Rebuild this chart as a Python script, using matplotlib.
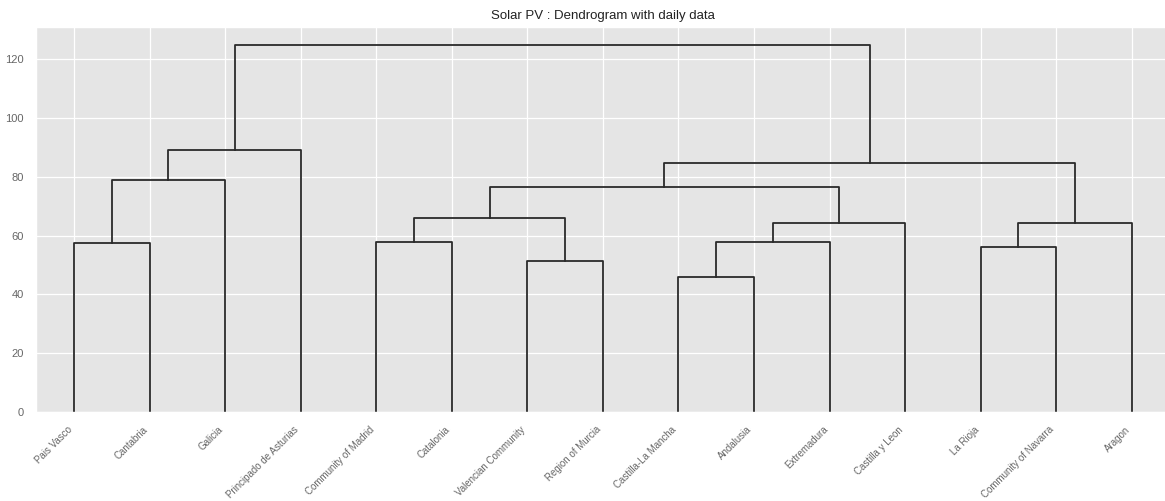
import matplotlib
matplotlib.use("Agg")
import matplotlib.pyplot as plt

plt.style.use("ggplot")
plt.rcParams['font.family'] = ['Liberation Sans', 'DejaVu Sans']

labels = ["Pais Vasco", "Cantabria", "Galicia", "Principado de Asturias",
          "Community of Madrid", "Catalonia", "Valencian Community",
          "Region of Murcia", "Castilla-La Mancha", "Andalusia", "Extremadura",
          "Castilla y Leon", "La Rioja", "Community of Navarra", "Aragon"]

# linkage rows: left child, right child, merge height (new node id = 15 + row)
left_child = [8, 6, 12, 0, 4, 15, 20, 17, 19, 23, 18, 24, 25, 27]
right_child = [9, 7, 13, 1, 5, 10, 11, 14, 16, 21, 2, 22, 3, 26]
heights = [45.8, 51.4, 56.3, 57.4, 57.7, 57.8, 64.2, 64.3, 66.0, 76.7,
           79.0, 84.7, 89.1, 124.8]

n = len(labels)

fig = plt.figure(figsize=(11.65, 5.01), dpi=100)
ax = fig.add_axes([36.2 / 1165, 89 / 501, 1133.3 / 1165, 385 / 501])

# leaf order from traversing the tree
def leaves(node):
    if node < n:
        return [node]
    r = node - n
    return leaves(left_child[r]) + leaves(right_child[r])

order = leaves(n + len(heights) - 1)
xpos = {leaf: 5 + 10 * i for i, leaf in enumerate(order)}
ypos = {leaf: 0.0 for leaf in order}

for r in range(len(heights)):
    a, b, h = left_child[r], right_child[r], heights[r]
    xa, xb = xpos[a], xpos[b]
    ax.plot([xa, xa, xb, xb], [ypos[a], h, h, ypos[b]], color="#2a2a2a", lw=1.3)
    xpos[n + r] = (xa + xb) / 2
    ypos[n + r] = h

ax.set_xlim(0, 10 * n)
ax.set_ylim(0, max(heights) * 1.05)
ax.set_xticks([5 + 10 * i for i in range(n)])
ax.set_xticklabels([labels[i] for i in order], rotation=45, ha="right",
                   fontsize=7, color="#666666")
ax.set_yticks(range(0, 121, 20))
ax.tick_params(axis="y", labelsize=8, colors="#666666", length=0, pad=9)
ax.tick_params(axis="x", length=0, pad=9)
ax.grid(True, color="white", lw=0.9)
ax.set_title("Solar PV : Dendrogram with daily data", fontsize=9.5, color="#222222", pad=6)

fig.savefig("out.png", dpi=100)
